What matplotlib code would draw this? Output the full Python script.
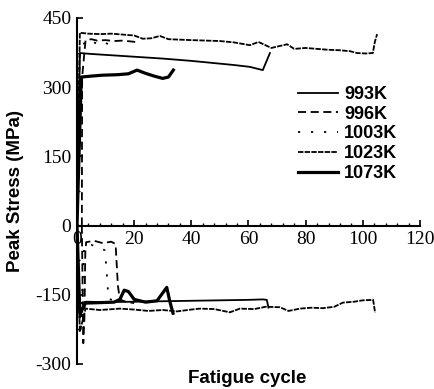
import matplotlib
matplotlib.use('Agg')
import matplotlib.pyplot as plt
from matplotlib.ticker import MultipleLocator

plt.rcParams['axes.unicode_minus'] = False

# 993K
c993_pos = [0, 1, 5, 10, 15, 20, 25, 30, 36, 40, 45, 50, 55, 60.5, 65, 67.5]
s993_pos = [0, 374, 372, 370, 368, 366, 364, 362, 359, 357, 354, 351, 348, 344, 337, 374]
c993_neg = [0, 1, 3, 10, 20, 30, 40, 50, 60, 65, 66.4, 67]
s993_neg = [0, -200, -165, -166, -165, -164, -163, -162, -161, -160, -161, -178]

# 996K
c996_pos = [1.7, 1.8, 3, 5, 7, 10, 13, 16, 19, 20.5]
s996_pos = [0, 322, 402, 404, 401, 402, 400, 401, 399, 398]
c996_neg = [1.7, 2.2, 2.6, 2.9, 3.2, 6, 9, 12, 13.5, 14.3, 15, 17, 20]
s996_neg = [0, -255, -200, -60, -36, -33, -38, -35, -40, -130, -160, -165, -168]

# 1003K
c1003_pos = [0, 1, 2.5, 4.5, 6, 8, 10, 12, 14]
s1003_pos = [0, 374, 395, 403, 397, 391, 396, 390, 387]
c1003_neg = [0, 1, 1.5, 2.5, 5, 8, 9.8, 10.5, 11, 13, 16]
s1003_neg = [0, -240, -200, -45, -42, -47, -54, -110, -159, -162, -165]

# 1023K
c1023_pos = [0, 1, 4, 8, 12, 16, 20, 23, 26, 29, 32, 36, 40, 45, 50, 55, 60.5,
             63.5, 68, 73.5, 76, 80, 84, 88, 92, 95.5, 98, 101, 103.5, 104.2, 105]
s1023_pos = [0, 418, 416, 415, 416, 414, 412, 405, 406, 411, 404, 403, 402, 401,
             400, 397, 391, 398, 385, 393, 383, 385, 383, 381, 380, 378, 374, 373,
             374, 398, 415]
c1023_neg = [0, 1, 3, 8, 15, 20, 25, 30, 35, 40, 43, 48, 53.5, 57, 62, 66, 71, 74,
             78, 82, 86, 90, 93, 97, 100, 103.6, 104.3]
s1023_neg = [0, -230, -180, -183, -180, -182, -185, -183, -186, -182, -180, -181,
             -188, -180, -181, -176, -177, -185, -180, -178, -179, -176, -167, -165,
             -162, -161, -189]

# 1073K
c1073_pos = [0, 1.5, 5, 9, 14, 18, 21, 24, 27, 30, 32, 33.7]
s1073_pos = [0, 322, 324, 326, 327, 329, 337, 330, 324, 319, 322, 337]
c1073_neg = [0, 1, 3, 8, 13, 15, 16.5, 18, 20, 24, 28, 31.4, 32.5, 33.6]
s1073_neg = [0, -190, -168, -167, -166, -160, -140, -143, -160, -166, -163, -134,
             -165, -190]

labels = ['993K', '996K', '1003K', '1023K', '1073K']

fig = plt.figure(figsize=(4.35, 3.89), dpi=100)
ax = fig.add_axes([0.177, 0.0643, 0.7885, 0.8895])

thin = 1.3
styles = [
    dict(color='black', lw=thin, ls='-'),
    dict(color='black', lw=thin, ls=(0, (4.5, 2.5))),
    dict(color='black', lw=thin, ls=(0, (1.2, 6))),
    dict(color='black', lw=thin, ls=(0, (3, 0.7))),
    dict(color='black', lw=2.3, ls='-'),
]
pos = [(c993_pos, s993_pos), (c996_pos, s996_pos), (c1003_pos, s1003_pos),
       (c1023_pos, s1023_pos), (c1073_pos, s1073_pos)]
neg = [(c993_neg, s993_neg), (c996_neg, s996_neg), (c1003_neg, s1003_neg),
       (c1023_neg, s1023_neg), (c1073_neg, s1073_neg)]

for (cp, sp), (cn, sn), st, lab in zip(pos, neg, styles, labels):
    ax.plot(cp, sp, label=lab, **st)
    ax.plot(cn, sn, **st)

ax.set_xlim(0, 120)
ax.set_ylim(-300, 450)
ax.spines['top'].set_visible(False)
ax.spines['right'].set_visible(False)
ax.spines['bottom'].set_position(('data', 0))
for s in ['left', 'bottom']:
    ax.spines[s].set_linewidth(1.5)

ax.xaxis.set_major_locator(MultipleLocator(20))
ax.xaxis.set_minor_locator(MultipleLocator(4))
ax.yaxis.set_major_locator(MultipleLocator(150))
ax.yaxis.set_minor_locator(MultipleLocator(75))
ax.tick_params(which='major', direction='in', length=4, width=1.2, pad=4)
ax.tick_params(which='minor', direction='in', length=2.5, width=1)

for t in ax.get_xticklabels() + ax.get_yticklabels():
    t.set_fontfamily('Liberation Serif')
    t.set_fontsize(14)

ax.set_ylabel('Peak Stress (MPa)', fontfamily='Liberation Sans',
              fontweight='bold', fontsize=13.5)
ax.yaxis.set_label_coords(-0.155, 0.5)
fig.text(0.568, 0.028, 'Fatigue cycle', ha='center', va='center',
         fontfamily='Liberation Sans', fontweight='bold', fontsize=13.5)

ax.legend(loc='upper left', bbox_to_anchor=(289 / 435, 1 - 77 / 389),
          bbox_transform=fig.transFigure, frameon=False, borderpad=0,
          handlelength=2.2, handletextpad=0.35, labelspacing=0.15,
          prop={'family': 'Liberation Sans', 'weight': 'bold', 'size': 13})

fig.savefig('out.png', dpi=100)
